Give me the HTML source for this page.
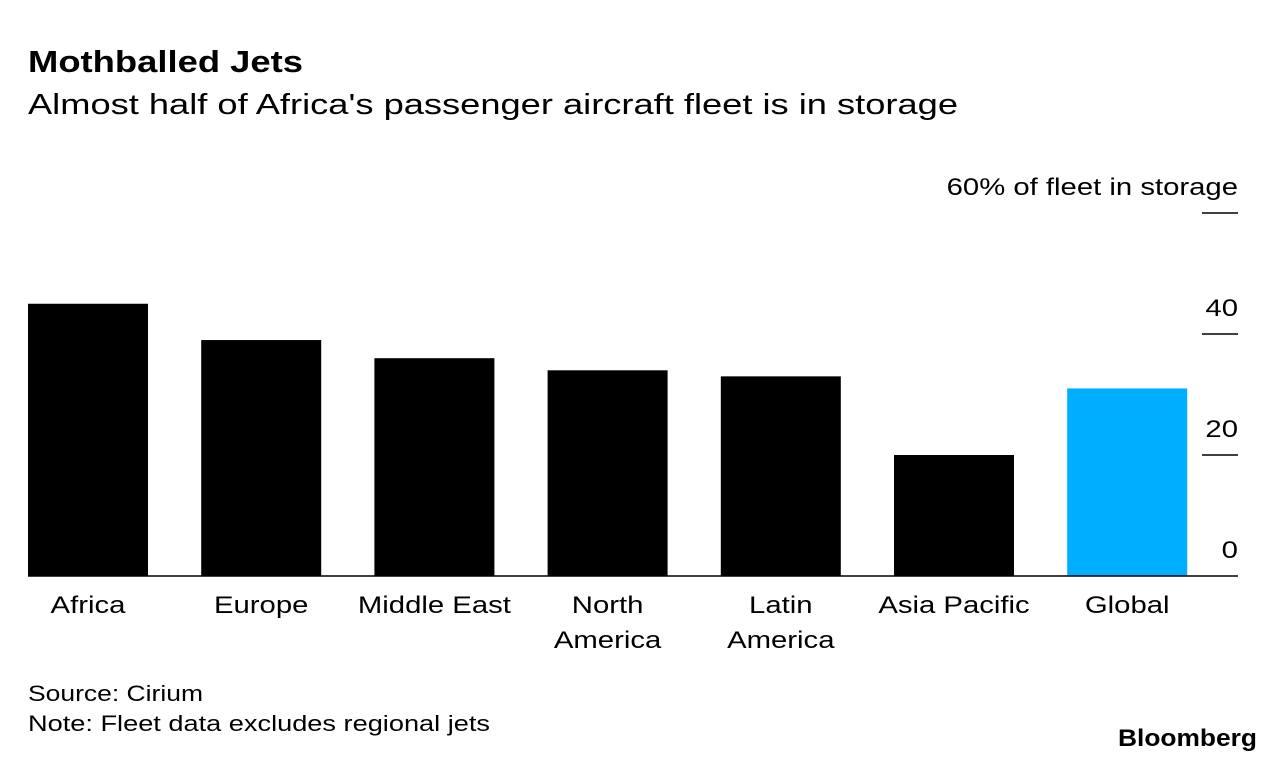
<!DOCTYPE html>
<html><head><meta charset="utf-8"><style>
body{margin:0;background:#fff;width:1285px;height:762px;overflow:hidden;font-family:"Liberation Sans",Arial,sans-serif;}
</style></head><body>
<svg width="1285" height="762" xmlns="http://www.w3.org/2000/svg" font-family="Liberation Sans, Arial, sans-serif">
<text x="28" y="72" font-size="31" font-weight="bold" fill="#000" textLength="275" lengthAdjust="spacingAndGlyphs">Mothballed Jets</text>
<text x="28" y="114" font-size="29" fill="#000" textLength="930" lengthAdjust="spacingAndGlyphs">Almost half of Africa's passenger aircraft fleet is in storage</text>
<g id="plot"></g>
<text x="28" y="701" font-size="22" fill="#000" textLength="175" lengthAdjust="spacingAndGlyphs">Source: Cirium</text>
<text x="28" y="731" font-size="22" fill="#000" textLength="462" lengthAdjust="spacingAndGlyphs">Note: Fleet data excludes regional jets</text>
<text x="1118" y="746" font-size="24" font-weight="bold" fill="#000" textLength="139" lengthAdjust="spacingAndGlyphs">Bloomberg</text>
</svg>
<script>
const categories=[["Africa"],["Europe"],["Middle East"],["North","America"],["Latin","America"],["Asia Pacific"],["Global"]];
const values=[45,39,36,34,33,20,31];
const highlight=[false,false,false,false,false,false,true];
const ticks=[0,20,40,60];
const tickLabels=["0","20","40","60% of fleet in storage"];
const NS="http://www.w3.org/2000/svg";
const g=document.getElementById('plot');
const y0=576,pxPer=6.05,W=1.22;
function yScale(v){return y0-v*pxPer;}
function xScale(i){return 28+i*173.2;}
const bw=120;
function mk(t,a){const e=document.createElementNS(NS,t);for(const k in a)e.setAttribute(k,a[k]);g.appendChild(e);return e;}
function widen(t){const L=t.getComputedTextLength();t.setAttribute('textLength',L*W);t.setAttribute('lengthAdjust','spacingAndGlyphs');}
values.forEach((v,i)=>{
 const r=mk('rect',{x:xScale(i),y:yScale(v),width:bw,height:v*pxPer,fill:highlight[i]?'#00aeff':'#000'});
 
 
 categories[i].forEach((ln,j)=>{
  const t=mk('text',{x:xScale(i)+bw/2,y:613+j*35,'font-size':24,'text-anchor':'middle',fill:'#000'});
  t.textContent=ln;
  
  
  widen(t);
 });
});
ticks.forEach((v,i)=>{
 if(v!==0){
  const l=mk('line',{x1:1202,x2:1238,y1:yScale(v),y2:yScale(v),stroke:'#000','stroke-width':1.5});
  
  
 }
 const t=mk('text',{x:1238,y:yScale(v)-18,'font-size':24,'text-anchor':'end',fill:'#000'});
 t.textContent=tickLabels[i];
 
 
 widen(t);
});
const b=mk('line',{x1:28,x2:1238,y1:y0,y2:y0,stroke:'#000','stroke-width':1.5});


</script>
</body></html>
